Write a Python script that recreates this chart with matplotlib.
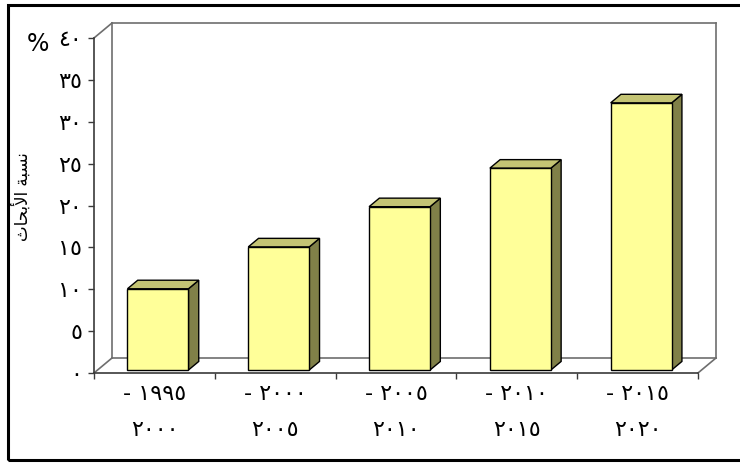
import matplotlib
matplotlib.use('Agg')

import matplotlib.pyplot as plt
from matplotlib.patches import Polygon, Rectangle

# data
period_start = ['١٩٩٥', '٢٠٠٠', '٢٠٠٥', '٢٠١٠', '٢٠١٥']
period_end = ['٢٠٠٠', '٢٠٠٥', '٢٠١٠', '٢٠١٥', '٢٠٢٠']
share = [9.7, 14.7, 19.5, 24.1, 31.9]

ytick_values = [0, 5, 10, 15, 20, 25, 30, 35, 40]
ytick_labels = ['٠', '٥', '١٠', '١٥', '٢٠', '٢٥', '٣٠', '٣٥', '٤٠']

# "نسبة الأبحاث" written in shaped presentation forms, visual order
ylabel_text = '\uFE99\uFE8E\uFEA4\uFE91\uFEF7\uFE8D \uFE94\uFE92\uFEB4\uFEE7'

plt.rcParams['font.family'] = ['DejaVu Sans']

front_col = '#FFFF99'
side_col = '#808048'
top_col = '#C4C474'
wall_col = '#6E6E6E'
axis_col = '#3A3A3A'

fig = plt.figure(figsize=(7.40, 4.63), dpi=100)
ax = fig.add_axes([0.1270, 0.1944, 0.8162, 0.7235])

n = len(share)
ax.set_xlim(0, n)
ax.set_ylim(0, 40)

# depth of the floor / walls (data units)
DX = 0.149
DY = 1.79
# bars sit partly into the depth
f = 0.2
bd = 0.57
bw = 0.505

#---------------------------
# walls and floor
#---------------------------
wall_kw = dict(color=wall_col, lw=1.2, clip_on=False, zorder=1)
ax.plot([DX, DX], [DY, 40 + DY], **wall_kw)
ax.plot([DX, n + DX], [40 + DY, 40 + DY], **wall_kw)
ax.plot([n + DX, n + DX], [40 + DY, DY], **wall_kw)
ax.plot([DX, n + DX], [DY, DY], **wall_kw)
ax.plot([0, DX], [0, DY], **wall_kw)
ax.plot([n, n + DX], [0, DY], **wall_kw)
ax.plot([0, DX], [40, 40 + DY], **wall_kw)

#---------------------------
# bars
#---------------------------
for i, v in enumerate(share):
    xl = i + 0.5 - bw / 2 + f * DX
    xr = xl + bw
    y0 = f * DY
    yt = y0 + v
    ox, oy = bd * DX, bd * DY

    side = Polygon([(xr, y0), (xr + ox, y0 + oy), (xr + ox, yt + oy), (xr, yt)],
                   closed=True, facecolor=side_col, edgecolor='black', lw=1.0,
                   clip_on=False, zorder=3)
    top = Polygon([(xl, yt), (xl + ox, yt + oy), (xr + ox, yt + oy), (xr, yt)],
                  closed=True, facecolor=top_col, edgecolor='black', lw=1.0,
                  clip_on=False, zorder=3)
    ax.add_patch(side)
    ax.add_patch(top)
    ax.bar(i + 0.5 + f * DX, v, bw, bottom=y0, color=front_col,
           edgecolor='black', lw=1.0, zorder=4, clip_on=False)

#---------------------------
# axes, ticks
#---------------------------
for s in ['top', 'right']:
    ax.spines[s].set_visible(False)
for s in ['left', 'bottom']:
    ax.spines[s].set_color(axis_col)
    ax.spines[s].set_linewidth(1.2)
    ax.spines[s].set_zorder(2)
ax.patch.set_alpha(0)

ax.set_yticks(ytick_values)
ax.set_yticklabels(ytick_labels, fontsize=16)
ax.tick_params(axis='y', direction='out', length=4.5, width=1.0,
               color=axis_col, pad=4)

ax.set_xticks(range(n + 1))
ax.set_xticklabels([''] * (n + 1))
ax.tick_params(axis='x', which='major', direction='out', length=4,
               width=1.0, color=axis_col)

xlabels = ['- ' + a + '\n' + b for a, b in zip(period_start, period_end)]
ax.set_xticks([i + 0.5 for i in range(n)], minor=True)
ax.set_xticklabels(xlabels, minor=True, fontsize=16)
ax.tick_params(axis='x', which='minor', length=0, pad=8)
for lbl in ax.get_xticklabels(minor=True):
    lbl.set_linespacing(2.0)

fig.text(22 / 740, 1 - 197 / 463, ylabel_text, rotation=90,
         ha='center', va='center', fontsize=12)
fig.text(38 / 740, 1 - 44 / 463, '%', ha='center', va='center', fontsize=17)

# outer frame
fig.patches.append(Rectangle((8 / 740, 3 / 463), 1.0, 1 - 8 / 463,
                             transform=fig.transFigure, fill=False,
                             edgecolor='black', lw=2.2))

fig.savefig('out.png', dpi=100)
plt.close(fig)
